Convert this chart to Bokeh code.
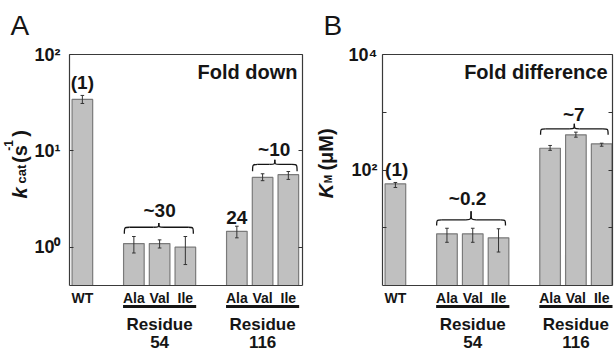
import math
from bokeh.plotting import figure
from bokeh.models import FixedTicker, LogAxis, LinearAxis, Label, BoxAnnotation, Range1d
from bokeh.core.properties import value
from bokeh.layouts import row
from bokeh.embed import file_html
from bokeh.resources import INLINE

# ---------------- data ----------------
positions = [0, 2, 3, 4, 6, 7, 8]
tick_labels = ["WT", "Ala", "Val", "Ile", "Ala", "Val", "Ile"]
group_names = ["Residue", "Residue"]
group_numbers = ["54", "116"]
group_members = [[2, 3, 4], [6, 7, 8]]

kcat = [34.2, 1.09, 1.09, 1.00, 1.46, 5.30, 5.65]
kcat_lo = [31.0, 0.87, 0.98, 0.66, 1.25, 4.90, 5.05]
kcat_hi = [37.6, 1.29, 1.19, 1.29, 1.65, 5.78, 6.10]

km = [57.7, 7.85, 7.85, 6.7, 238, 407, 284]
km_lo = [49.8, 5.6, 5.6, 3.8, 219, 370, 258]
km_hi = [60.8, 9.8, 9.8, 9.6, 266, 452, 291]

kcat_ticks = [1, 10, 100]
kcat_tick_text = ["10\u2070", "10\u00b9", "10\u00b2"]
km_ticks = [10, 100, 1000, 10000]
km_tick_text = ["", "10\u00b2", "", "10\u2074"]

# fold-change annotations: (text, x, y) -- y is the text's vertical centre
notes_A = [("(1)", 0, 50.7), ("~30", 3, 2.40), ("24", 6, 2.01), ("~10", 7.45, 10.3)]
notes_B = [("(1)", 0.05, 101), ("~0.2", 2.8, 32.7), ("~7", 6.92, 908)]
# braces: (x_left, x_right, y_ends, y_mid, y_peak)
braces_A = [(1.63, 4.31, 1.38, 1.61, 1.78), (6.61, 8.34, 6.15, 7.22, 8.09)]
braces_B = [(1.60, 4.27, 10.9, 13.7, 19.4), (5.63, 8.25, 406, 517, 631)]

FONT = "Liberation Sans"
INK = "#151515"
AXC = "#3a3a3a"
BAR_FILL = "#c0c0c0"
BAR_LINE = "#7a7a7a"
H = 352


def add_brace(p, xl, xr, ye, ym, yt, q=0.2):
    xc = (xl + xr) / 2
    p.bezier(x0=[xl, xc - q, xc, xr - q], y0=[ye, ym, yt, ym],
             x1=[xl + q, xc, xc + q, xr], y1=[ym, yt, ym, ye],
             cx0=[xl, xc, xc, xr], cy0=[ym, ym, ym, ym],
             cx1=[xl, xc, xc, xr], cy1=[ym, ym, ym, ym],
             line_color=INK, line_width=1.3)
    p.segment(x0=[xl + q, xc + q], y0=[ym, ym], x1=[xc - q, xr - q], y1=[ym, ym],
              line_color=INK, line_width=1.3)


def make_panel(vals, lo, hi, xlim, ylim, yticks, ytext, canvas_left, canvas_w, box,
               standoff, title, letter, ylabel, notes, braces):
    bl, br, bt, bb = box  # plot box in page pixels: left, right, top, bottom
    unit = (br - bl) / (xlim[1] - xlim[0])
    xs = xlim[0] - (bl - canvas_left) / unit
    xe = xlim[1] + (canvas_left + canvas_w - br) / unit
    l0, l1 = math.log10(ylim[0]), math.log10(ylim[1])
    dec = (bb - bt) / (l1 - l0)
    ys = 10 ** (l0 - (H - bb) / dec)
    ye = 10 ** (l1 + bt / dec)

    def px_to_data(xp, yp):
        return xlim[0] + (xp - bl) / unit, 10 ** (l0 + (bb - yp) / dec)

    p = figure(width=canvas_w, height=H, x_range=Range1d(xs, xe),
               y_range=Range1d(ys, ye), y_axis_type="log",
               x_axis_location=None, y_axis_location=None, title=None,
               output_backend="svg", toolbar_location=None, min_border=0)
    p.outline_line_color = None
    p.grid.visible = False

    p.vbar(x=positions, top=vals, bottom=ylim[0], width=0.8,
           fill_color=BAR_FILL, line_color=BAR_LINE, line_width=1.2)
    p.segment(x0=positions, y0=lo, x1=positions, y1=hi, line_color="#333333", line_width=1)
    cx0 = [x - 0.07 for x in positions]
    cx1 = [x + 0.07 for x in positions]
    p.segment(x0=cx0, y0=lo, x1=cx1, y1=lo, line_color="#333333", line_width=1)
    p.segment(x0=cx0, y0=hi, x1=cx1, y1=hi, line_color="#333333", line_width=1)

    common = dict(axis_line_color=AXC, axis_line_width=1.2, minor_tick_line_color=None)
    xa = LinearAxis(fixed_location=ylim[0], bounds=xlim,
                    ticker=FixedTicker(ticks=positions),
                    major_label_overrides={x: t for x, t in zip(positions, tick_labels)},
                    major_tick_line_color=None, major_tick_in=0, major_tick_out=0,
                    major_label_standoff=4,
                    major_label_text_font=FONT, major_label_text_font_style="bold",
                    major_label_text_font_size="14px", major_label_text_color=INK, **common)
    p.add_layout(xa, "below")
    ta = LinearAxis(fixed_location=ylim[1], bounds=xlim, ticker=FixedTicker(ticks=[]),
                    major_tick_line_color=None, major_tick_in=0, major_tick_out=0,
                    major_label_text_font_size="0px", **common)
    p.add_layout(ta, "above")

    ya = LogAxis(fixed_location=xlim[0], bounds=ylim, ticker=FixedTicker(ticks=yticks),
                 major_label_overrides={v: t for v, t in zip(yticks, ytext)},
                 major_tick_in=4, major_tick_out=0, major_tick_line_color="#333333",
                 major_label_standoff=standoff, major_label_text_font=FONT,
                 major_label_text_font_style="bold", major_label_text_font_size="18px",
                 major_label_text_color=INK, **common)
    p.add_layout(ya, "left")
    ra = LogAxis(fixed_location=xlim[1], bounds=ylim, ticker=FixedTicker(ticks=yticks),
                 major_label_overrides={v: "" for v in yticks},
                 major_label_text_font_size="0px", major_label_standoff=0,
                 major_tick_in=4, major_tick_out=0, major_tick_line_color="#333333",
                 **common)
    p.add_layout(ra, "right")

    # group labels and underlines
    for name, num, mem in zip(group_names, group_numbers, group_members):
        c = sum(mem) / len(mem)
        p.add_layout(BoxAnnotation(left=mem[0] - 0.42, right=mem[-1] + 0.42,
                                   top=H - 304.5, bottom=H - 307.5, top_units="screen",
                                   bottom_units="screen", fill_color=INK,
                                   fill_alpha=1, line_color=None))
        for txt, yy in ((name, 323.5), (num, 341)):
            p.add_layout(Label(x=c, y=H - yy, x_units="data", y_units="screen", text=txt,
                               text_align="center", text_baseline="middle",
                               text_font=FONT, text_font_style="bold",
                               text_font_size="17px", text_color=INK))

    for txt, x, y in notes:
        p.add_layout(Label(x=x, y=y, text=txt, text_align="center",
                           text_baseline="middle", text_font=FONT,
                           text_font_style="bold", text_font_size="19px",
                           text_color=INK))
    for b in braces:
        add_brace(p, *b)

    p.add_layout(Label(x=br - canvas_left - 5, y=H - 71, x_units="screen", y_units="screen",
                       text=title, text_align="right", text_baseline="middle",
                       text_font=FONT, text_font_style="bold",
                       text_font_size="20px", text_color=INK))
    p.add_layout(Label(x=bl - canvas_left - 59, y=H - 25, x_units="screen", y_units="screen",
                       text=letter, text_align="left", text_baseline="middle",
                       text_font=FONT, text_font_size="28px", text_color=INK))

    # rotated axis title, drawn as text glyphs (one per styled piece)
    for txt, size, style, xc, yc in ylabel:
        xd, yd = px_to_data(xc, yc)
        p.text(x=[xd], y=[yd], text=[txt], angle=math.pi / 2, text_align="center",
               text_baseline="middle", text_font=value(FONT),
               text_font_size=value(f"{size}px"), text_font_style=style,
               text_color=INK)
    return p


pA = make_panel(kcat, kcat_lo, kcat_hi, (-0.5, 8.55), (0.4, 100), kcat_ticks, kcat_tick_text,
                0, 306, (69, 302, 54, 285), 9, "Fold down", "A",
                [("k", 20, "bold italic", 19.5, 192.5), ("cat", 13, "bold", 20.5, 173.5),
                 ("(s", 20, "bold", 19.5, 153.5), ("-1", 12, "bold", 8, 145),
                 (")", 20, "bold", 19.5, 133)],
                notes_A, braces_A)
pB = make_panel(km, km_lo, km_hi, (-0.5, 8.42), (1, 10000), km_ticks, km_tick_text,
                306, 308, (382, 612, 54, 285), 5, "Fold difference", "B",
                [("K", 20, "bold italic", 325.5, 190.5), ("M", 10, "bold", 328, 178.5),
                 ("(\u03bcM)", 20, "bold", 325.5, 149)],
                notes_B, braces_B)

layout = row(pA, pB)
open("out.html", "w").write(file_html(layout, INLINE))
